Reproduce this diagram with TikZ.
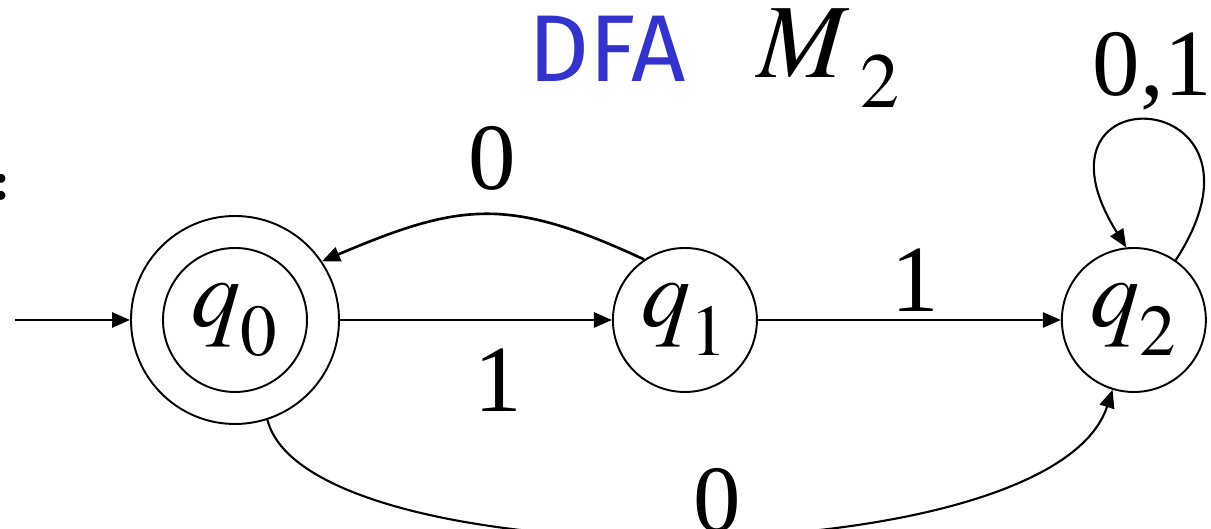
\documentclass[tikz,border=0pt]{standalone}
\usepackage{mathptmx}
\usepackage[no-math]{fontspec}
\setmainfont{Liberation Serif}
\newfontfamily\dfafont{Fira Sans}
\usepackage{xcolor}
\usetikzlibrary{arrows.meta, positioning}
\definecolor{dfablue}{RGB}{51,51,204}
\newcommand\lowsub[2]{#1_{\raisebox{-4pt}{$\scriptstyle #2$}}}
\tikzset{
  st/.style  ={circle, draw, line width=0.55pt, minimum size=1.44cm, inner sep=0pt, font=\fontsize{28}{30}\selectfont},
  acc/.style ={st, minimum size=2.08cm},
  fl/.style  ={-{Triangle[length=1.8mm, width=1.5mm]}, line width=0.75pt},
  lbl/.style ={font=\fontsize{27}{29}\selectfont, inner sep=0pt},
  ttl/.style ={font=\dfafont\fontsize{27}{30}\selectfont, text=dfablue, inner sep=0pt},
}

\begin{document}
\begin{tikzpicture}[node distance=2.72cm, >=Latex]
  \useasboundingbox (0,0) rectangle (12.11,5.29);
  \node[font=\dfafont\bfseries\fontsize{14}{16}\selectfont, inner sep=0pt] (colon) at (0.01,3.42) {:};
  \node[ttl] (dfa) at (6.07,4.80) {DFA};
  \node[font=\fontsize{30}{32}\selectfont, inner sep=0pt, anchor=base west] (m2) at (7.57,4.51) {$\lowsub{M}{\;2}$};
  \node[acc] (q0) at (2.35,2.09) {};
  \node[st] (q0in) at (q0) {$\lowsub{q}{0}$};
  \node[st, right=of q0] (q1) {$\lowsub{q}{1}$};
  \node[st, right=3.03cm of q1] (q2) {$\lowsub{q}{2}$};
  \coordinate[left=1.15cm of q0] (init);
  \draw[fl] (init) -- (q0);
  \draw[fl] (q0) -- node[lbl, below=0.28cm, pos=0.58] {1} (q1);
  \draw[fl] (q1) -- node[lbl, above=0.07cm, pos=0.52] {1} (q2);
  \draw[fl] (q1.124) to[out=155, in=23, distance=1.5cm] node[lbl, above=0.23cm, pos=0.47] {0} (q0.34);
  \draw[fl, line width=0.6pt] (q0.-72) to[out=-76, in=-108, out distance=1.65cm, in distance=2cm] node[lbl, above=0.02cm, pos=0.53] {0} (q2.-107);
  \draw[fl, line width=0.6pt] (q2.55) to[out=57, in=122, distance=2.1cm] node[lbl, above=0.1cm] {0,1} (q2.96);
\end{tikzpicture}
\end{document}
